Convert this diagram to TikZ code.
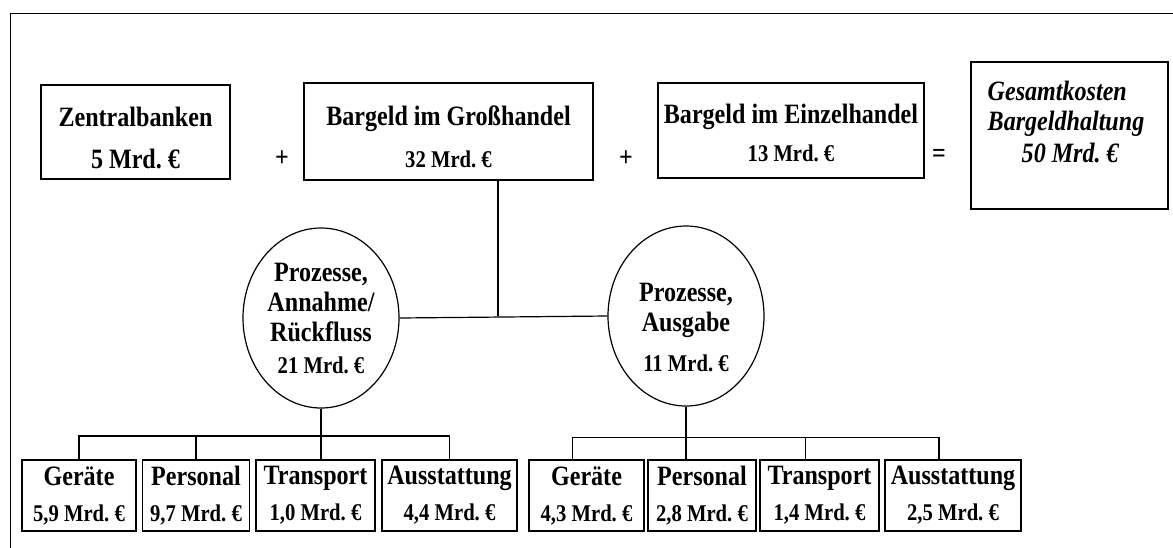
\documentclass[tikz,border=0pt]{standalone}
\usepackage{fontspec}
\setmainfont[FakeStretch=0.86]{Liberation Serif}
\usetikzlibrary{shapes.geometric,positioning}

\tikzset{
  box/.style={draw, line width=0.7pt, align=center, inner sep=1pt,
    font=\fontsize{14}{15}\selectfont\bfseries},
  oval/.style={draw, ellipse, line width=0.6pt, align=center, inner sep=0pt,
    minimum width=78pt, minimum height=90pt,
    font=\fontsize{14}{15}\selectfont\bfseries},
  op/.style={font=\fontsize{14}{15}\selectfont\bfseries},
  link/.style={line width=0.6pt},
}
\newcommand{\amt}[1]{{\fontsize{12}{13}\selectfont #1}}

\begin{document}
\begin{tikzpicture}[x=0.5pt,y=-0.5pt]
\useasboundingbox (0,0) rectangle (1173,547);
\clip (0,0) rectangle (1173,547);
\draw[link] (10.5,13.5) rectangle (1190,570);

% obere Reihe
\node[box, minimum width=94.5pt, minimum height=47pt, text height=36.5pt] (zb) at (135.5,132) {Zentralbanken\\[6pt]5 Mrd.~€};
\node[op] (plus1) at (282,159) {+};
\node[box, minimum width=144.5pt, minimum height=48.5pt, text height=36.5pt] (gh) at (448.5,131.5) {Bargeld im Großhandel\\[6pt]\amt{32 Mrd.~€}};
\node[op] (plus2) at (626,159) {+};
\node[box, minimum width=133pt, minimum height=47.5pt, text height=31pt] (eh) at (791,130.5) {Bargeld im Einzelhandel\\[4pt]\amt{13 Mrd.~€}};
\node[op] (gleich) at (939,156) {=};
\node[box, align=left, minimum width=98.5pt, minimum height=73.5pt, text depth=14pt] (gk) at (1069.5,135.5)
  {\hspace*{-3.5pt}\textit{Gesamtkosten}\\\hspace*{-3.5pt}\textit{Bargeldhaltung}\\[1pt]\hspace*{13.5pt}\textit{50 Mrd.~€}};

% Prozesse
\node[oval] (pa) at (321,318) {Prozesse,\\Annahme/\\Rückfluss\\[1pt]\amt{21 Mrd.~€}};
\node[oval, text height=56pt] (pg) at (686,316) {Prozesse,\\Ausgabe\\[5pt]\amt{11 Mrd.~€}};
\coordinate (j) at (498,316);
\draw[link] (gh.south -| j) -- (j);
\draw[link] (pa.east) -- (pg.west);

% Kostenarten
\foreach \nm/\cx/\bw/\lab/\val in {ga1/79/57/Geräte/{5,9}, pe1/196/53.5/Personal/{9,7},
    tr1/315.5/59.5/Transport/{1,0}, au1/449.5/67.5/Ausstattung/{4,4},
    ga2/586.5/57.5/Geräte/{4,3}, pe2/702/54/Personal/{2,8},
    tr2/819.5/59.5/Transport/{1,4}, au2/953/68/Ausstattung/{2,5}}
  \node[box, minimum width=\bw pt, minimum height=35.5pt] (\nm) at (\cx,495.5)
    {\lab\\[3pt]\amt{\val~Mrd.~€}};

\coordinate (busL) at (0,436);
\coordinate (busR) at (0,437.5);
\draw[link] (pa.south) -- (pa.south |- tr1.north);
\draw[link] (ga1.north) -- (ga1.north |- busL) -- (au1.north |- busL) -- (au1.north);
\draw[link] (pe1.north) -- (pe1.north |- busL);
\draw[link] (pg.south) -- (pg.south |- pe2.north);
\draw[link] ([xshift=-7pt]ga2.north) -- ([xshift=-7pt]ga2.north |- busR)
  -- ([xshift=-7pt]au2.north |- busR) -- ([xshift=-7pt]au2.north);
\draw[link] ([xshift=-7pt]tr2.north) -- ([xshift=-7pt]tr2.north |- busR);
\end{tikzpicture}
\end{document}
